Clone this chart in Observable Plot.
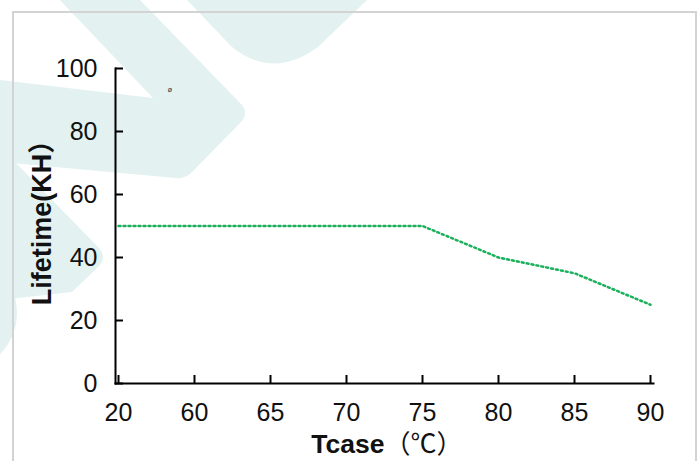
<!DOCTYPE html>
<html><head><meta charset="utf-8">
<script src="https://cdn.jsdelivr.net/npm/d3@7"></script>
<script src="https://cdn.jsdelivr.net/npm/@observablehq/plot@0.6"></script>
<style>
html,body{margin:0;padding:0;background:#fff;}
#wrap{position:relative;width:700px;height:461px;overflow:hidden;}
#bg{position:absolute;left:0;top:0;}
#chart{position:absolute;left:0;top:0;}
</style></head><body>
<div id="wrap">
<svg id="bg" width="700" height="461">
  <g fill="#e3f1f1">
    <path d="M60,0 L140,0 L241,104 Q249,113 241,122 L192,172 Q185,179 176,178 L0,162 L0,80 L153,98 Z"/>
    <path d="M187,0 L232,47 Q273,80 318,47 L367,0 Z"/>
    <path d="M0,150 L13,160 L99,248 Q107,257 99,266 L72,292 L0,300 Z"/>
    <ellipse cx="-45" cy="313" rx="62" ry="60"/>
  </g>
  <rect x="13" y="12" width="683" height="470" fill="none" stroke="#d3d3d3" stroke-width="2"/>
  <text x="170" y="92" font-size="7" text-anchor="middle" font-family="DejaVu Sans" fill="#333">ø</text>
</svg>
<div id="chart"></div>
</div>
<script>
const temps = ["20","60","65","70","75","80","85","90"];
const lifetime = [50,50,50,50,50,40,35,25];
const yTicks = [0,20,40,60,80,100];
const xTitle = "Tcase";
const xUnit = "（℃）";
const yTitle = "Lifetime(KH）";

const data = temps.map((t, i) => ({t, v: lifetime[i]}));

const plot = Plot.plot({
  width: 700, height: 461,
  marginLeft: 115, marginRight: 47, marginTop: 68, marginBottom: 78,
  style: {background: "transparent", fontFamily: "'Liberation Sans', Arial, 'Noto Sans CJK SC', sans-serif", color: "#000"},
  x: {type: "point", domain: temps, padding: 0},
  y: {domain: [0, 100]},
  marks: [
    Plot.lineY(data, {x: "t", y: "v", stroke: "#1bb05c", strokeWidth: 2.5, strokeDasharray: "2,3"}),
    Plot.frame({anchor: "left", strokeWidth: 2, stroke: "#000"}),
    Plot.frame({anchor: "bottom", strokeWidth: 2, stroke: "#000"}),
    Plot.axisY(yTicks, {tickSize: -8, strokeWidth: 2, tickPadding: 26, fontSize: 25, label: null, fill: "#111"}),
    Plot.axisX(temps, {tickSize: -8, strokeWidth: 2, tickPadding: 28, fontSize: 25, label: null, fill: "#111"}),
    Plot.text([xTitle], {frameAnchor: "bottom", textAnchor: "end", dy: 69, fontWeight: "bold", fontSize: 26.5, fill: "#111"}),
    Plot.text([xUnit], {frameAnchor: "bottom", textAnchor: "start", dy: 69, fontSize: 26, fill: "#111"}),
    Plot.text([yTitle], {frameAnchor: "left", textAnchor: "middle", rotate: -90, dx: -73, dy: -10, fontWeight: "bold", fontSize: 27, fill: "#111"})
  ]
});
document.getElementById("chart").appendChild(plot);
</script>
</body></html>
